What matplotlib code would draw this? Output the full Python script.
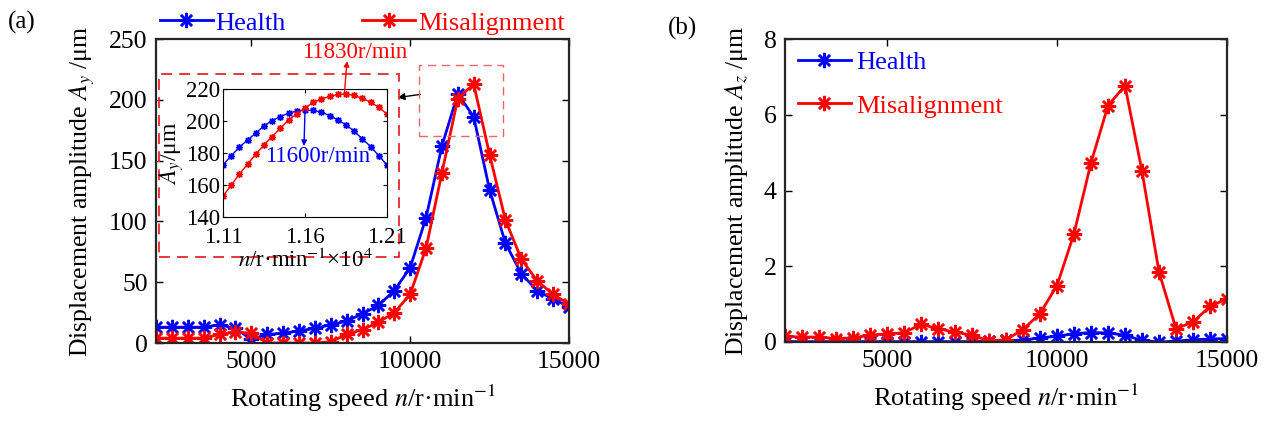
import matplotlib
matplotlib.use("Agg")
import matplotlib.pyplot as plt
from matplotlib.patches import Rectangle

plt.rcParams["font.family"] = ["Liberation Serif", "DejaVu Serif"]
plt.rcParams["mathtext.fontset"] = "stix"
plt.rcParams["font.size"] = 17

# rotating speed (r/min)
speed = [2000, 2500, 3000, 3500, 4000, 4500, 5000, 5500, 6000, 6500, 7000,
         7500, 8000, 8500, 9000, 9500, 10000, 10500, 11000, 11500, 12000,
         12500, 13000, 13500, 14000, 14500, 15000]

# (a) A_y, um
ay_health = [13, 13, 13, 13, 15, 12, 3, 7, 8, 10, 12, 15, 18, 24, 31, 43,
             62, 103, 162, 205, 186, 126, 82, 57, 43, 36, 30]
ay_mis = [4, 4, 4, 4, 7, 9, 8, 0, 0, 0, 0, 1, 7, 11, 17, 25, 40, 78, 140,
          201, 213, 155, 101, 69, 51, 40, 32]

# (b) A_z, um
az_health = [0.01, 0.01, 0.01, 0.01, 0.01, 0.01, 0.01, 0.01, 0.01, 0.01,
             0.01, 0.01, 0.02, 0.04, 0.05, 0.11, 0.15, 0.22, 0.25, 0.24,
             0.18, 0.04, 0.0, 0.02, 0.06, 0.08, 0.09]
az_mis = [0.15, 0.13, 0.13, 0.09, 0.11, 0.18, 0.22, 0.24, 0.47, 0.35, 0.26,
          0.18, 0.03, 0.06, 0.33, 0.75, 1.49, 2.86, 4.73, 6.24, 6.77, 4.51,
          1.85, 0.35, 0.53, 0.94, 1.14]

# inset: zoom around the peak (x1e4 r/min)
zoom_speed = [1.110, 1.115, 1.120, 1.125, 1.130, 1.135, 1.140, 1.145, 1.150,
              1.155, 1.160, 1.165, 1.170, 1.175, 1.180, 1.185, 1.190, 1.195,
              1.200, 1.205, 1.210]
zoom_health = [172.5, 178.3, 183.6, 188.2, 192.4, 197.0, 200.3, 202.8, 204.9,
               206.2, 206.8, 206.6, 205.5, 203.4, 200.7, 197.6, 193.6, 188.8,
               184.0, 178.3, 172.5]
zoom_mis = [153.0, 159.9, 166.8, 173.1, 179.2, 185.0, 190.3, 195.5, 200.7,
            204.5, 208.1, 211.6, 213.7, 215.4, 216.6, 216.9, 216.0, 214.1,
            211.8, 208.5, 204.3]

BLUE = "#0000ff"
RED = "#ff0000"
STAR = (8, 2, 0)
W, H = 1269, 426


def box(ax):
    ax.tick_params(direction="in", top=True, right=True, length=5,
                   width=1.0, labelsize=18.5, pad=6)
    for s in ax.spines.values():
        s.set_linewidth(1.6)
        s.set_color("#262626")


fig = plt.figure(figsize=(W / 100, H / 100), dpi=100)

# ---------- (a) ----------
ax1 = fig.add_axes([156 / W, 1 - 343 / H, 413 / W, 304 / H])
ax1.plot(speed, ay_health, "-", color=BLUE, lw=2.0, marker=STAR, ms=11,
         mew=1.8, label="Health")
ax1.plot(speed, ay_mis, "-", color=RED, lw=2.0, marker=STAR, ms=11,
         mew=1.8, label="Misalignment")
ax1.set_xlim(2000, 15000)
ax1.set_ylim(0, 250)
ax1.set_xticks([5000, 10000, 15000])
ax1.set_yticks([0, 50, 100, 150, 200, 250])
box(ax1)
ax1.set_xlabel("Rotating speed $\\mathit{n}$/r·min$^{-1}$", fontsize=19,
               labelpad=7)
ax1.set_ylabel("Displacement amplitude $\\mathit{A}_{y}$ /μm", fontsize=18.5,
               labelpad=9)

ax1.add_patch(Rectangle((2090, 71), 9650 - 2090, 221 - 71, fill=False,
                        ec="#e8262b", lw=1.3, ls=(0, (6, 4)), clip_on=False,
                        zorder=5))
ax1.add_patch(Rectangle((10280, 170), 12920 - 10280, 229 - 170, fill=False,
                        ec="#e46a6a", lw=1.0, ls=(0, (6, 4)), clip_on=False,
                        zorder=5))
ax1.annotate("", xy=(395 / W, 1 - 98 / H), xycoords="figure fraction",
             xytext=(423 / W, 1 - 94 / H), textcoords="figure fraction",
             arrowprops=dict(arrowstyle="-|>", color="black", lw=1.0,
                             mutation_scale=10))

fig.legend(*ax1.get_legend_handles_labels(), loc="center left",
           bbox_to_anchor=(160 / W, 1 - 23 / H), ncol=2, frameon=False,
           fontsize=19, labelcolor="linecolor", handlelength=2.0,
           handletextpad=0.1, columnspacing=2.9, borderpad=0,
           borderaxespad=0)
fig.text(8 / W, 1 - 22 / H, "(a)", fontsize=18, va="center", ha="left")

# inset
axi = fig.add_axes([223 / W, 1 - 217 / H, 164 / W, 128 / H])
axi.plot(zoom_speed, zoom_health, "-", color=BLUE, lw=1.0, marker=STAR,
         ms=5, mew=1.0)
axi.plot(zoom_speed, zoom_mis, "-", color=RED, lw=1.0, marker=STAR, ms=5,
         mew=1.0)
axi.set_xlim(1.11, 1.21)
axi.set_ylim(140, 220)
axi.set_xticks([1.11, 1.16, 1.21])
axi.set_xticklabels(["1.11", "1.16", "1.21"])
axi.set_yticks([140, 160, 180, 200, 220])
axi.tick_params(direction="in", top=True, right=True, length=3, width=0.8,
                labelsize=16.5, pad=2)
axi.tick_params(axis="x", pad=7)
for s in axi.spines.values():
    s.set_linewidth(0.8)
axi.set_xlabel("$\\mathit{n}$/r·min$^{-1}$×10$^{4}$", fontsize=16.5,
               labelpad=1)
axi.set_ylabel("$\\mathit{A}_{y}$/μm", fontsize=17, labelpad=0)

axi.annotate("", xy=(347 / W, 1 - 61 / H), xycoords="figure fraction",
             xytext=(1.184, 216.9), textcoords="data",
             arrowprops=dict(arrowstyle="-|>", color=RED, lw=1.0,
                             mutation_scale=8, shrinkA=0, shrinkB=0))
fig.text(355 / W, 1 - 52 / H, "11830r/min", color=RED, fontsize=16.5,
         ha="center", va="center")
axi.annotate("", xy=(304 / W, 1 - 146 / H), xycoords="figure fraction",
             xytext=(1.16, 206.8), textcoords="data",
             arrowprops=dict(arrowstyle="-|>", color=BLUE, lw=1.0,
                             mutation_scale=8, shrinkA=0, shrinkB=0))
fig.text(318 / W, 1 - 157 / H, "11600r/min", color=BLUE, fontsize=16.5,
         ha="center", va="center")

# ---------- (b) ----------
ax2 = fig.add_axes([785 / W, 1 - 342 / H, 442 / W, 303 / H])
ax2.plot(speed, az_health, "-", color=BLUE, lw=2.0, marker=STAR, ms=11,
         mew=1.8, label="Health")
ax2.plot(speed, az_mis, "-", color=RED, lw=2.0, marker=STAR, ms=11,
         mew=1.8, label="Misalignment")
ax2.set_xlim(2000, 15000)
ax2.set_ylim(0, 8)
ax2.set_xticks([5000, 10000, 15000])
ax2.set_yticks([0, 2, 4, 6, 8])
box(ax2)
ax2.set_xlabel("Rotating speed $\\mathit{n}$/r·min$^{-1}$", fontsize=19,
               labelpad=7)
ax2.set_ylabel("Displacement amplitude $\\mathit{A}_{z}$ /μm", fontsize=18.5,
               labelpad=10)
ax2.legend(loc="upper left", bbox_to_anchor=(798 / W, 1 - 51 / H),
           bbox_transform=fig.transFigure, frameon=False, fontsize=19,
           labelcolor="linecolor", handlelength=2.0, handletextpad=0.2,
           labelspacing=0.75, borderpad=0, borderaxespad=0)
fig.text(668 / W, 1 - 28 / H, "(b)", fontsize=18, va="center", ha="left")

fig.savefig("out.png", dpi=100)
